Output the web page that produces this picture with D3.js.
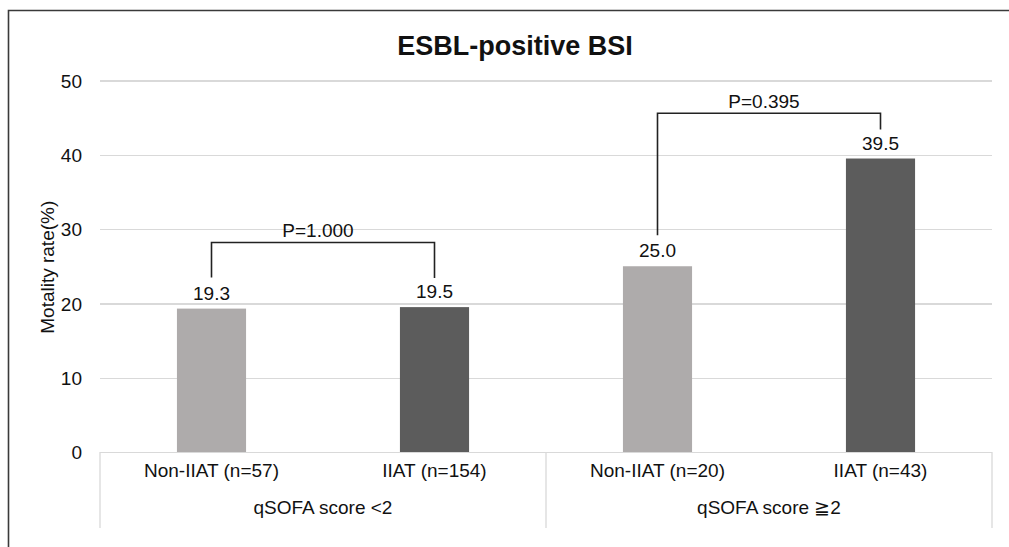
<!DOCTYPE html>
<html>
<head>
  <title>ESBL-positive BSI</title>
  <style>
  body {
    margin: 0;
    background: #fff;
    font-family: "Liberation Sans", Arial, Helvetica, sans-serif;
  }

  .grid line {
    stroke: #d9d9d9;
    stroke-width: 1.3;
    shape-rendering: crispedges;
  }

  .tick text {
    font-size: 19px;
    fill: #111;
  }

  .sep {
    stroke: #d9d9d9;
    stroke-width: 1.3;
  }

  .bracket {
    fill: none;
    stroke: #222;
    stroke-width: 1.6;
  }

  .label {
    font-size: 19px;
    fill: #111;
    text-anchor: middle;
  }
  </style>
  <script src="https://cdn.jsdelivr.net/npm/d3@7"></script>
</head>
<body>
<div id="container"></div>
<script>
var categories = ["Non-IIAT (n=57)", "IIAT (n=154)", "Non-IIAT (n=20)", "IIAT (n=43)"],
    treatment  = ["non", "iiat", "non", "iiat"],
    groups     = ["qSOFA score <2", "qSOFA score \u22672"],
    rates      = [19.3, 19.5, 25.0, 39.5],
    yTicks     = [0, 10, 20, 30, 40, 50]

// p-value comparisons: bar indexes, label, level of the bracket (in %)
var pFrom  = [0, 2],
    pTo    = [1, 3],
    pText  = ["P=1.000", "P=0.395"],
    pLevel = [28.2, 45.6]

var W = 1009, H = 547,
    plotL = 100, plotR = 992, plotT = 80.5, plotB = 452

var colour = d3.scaleOrdinal()
  .domain(["non", "iiat"])
  .range(["#aeabab", "#5c5c5c"])

var svg = d3.select("#container").append("svg")
    .attr("width", W)
    .attr("height", H)
    .style("display", "block")

// outer frame (only top and left are inside the picture)
svg.append("path")
  .attr("d", "M8.5," + H + "V10.5H" + W)
  .attr("fill", "none")
  .attr("stroke", "#3a3a3a")
  .attr("stroke-width", 1.6)

var x = d3.scaleBand()
  .domain(categories)
  .range([plotL, plotR])
  .padding(0)

var y = d3.scaleLinear()
  .domain([0, 50])
  .range([plotB, plotT])

var barW = x.bandwidth() * 0.31

svg.append("text")
  .attr("x", 515)
  .attr("y", 55)
  .attr("text-anchor", "middle")
  .attr("font-size", "27px")
  .attr("font-weight", "bold")
  .attr("fill", "#111")
  .text("ESBL-positive BSI")

var yax = d3.axisLeft(y)
  .tickValues(yTicks)
  .tickSize(-(plotR - plotL))
  .tickPadding(18)
  .tickFormat(d3.format("d"))

svg.append("g")
  .attr("class", "grid")
  .attr("transform", "translate(" + plotL + ",0)")
  .call(yax)
  .call(function(g) { g.select(".domain").remove() })
  .call(function(g) { g.selectAll(".tick text").attr("dy", "0.35em") })

svg.append("text")
  .attr("class", "label")
  .attr("transform", "translate(54," + ((plotT + plotB) / 2 + 1) + ") rotate(-90)")
  .text("Motality rate(%)")

// group separators below the axis
var sepX = [plotL, x(categories[2]), plotR]
svg.selectAll(".sep")
  .data(sepX)
.enter().append("line")
  .attr("class", "sep")
  .attr("x1", function(d) { return d })
  .attr("x2", function(d) { return d })
  .attr("y1", plotB)
  .attr("y2", 528)

svg.selectAll(".bar")
  .data(rates)
.enter().append("rect")
  .attr("class", "bar")
  .attr("x", function(d, i) { return x(categories[i]) + (x.bandwidth() - barW) / 2 })
  .attr("y", function(d) { return y(d) })
  .attr("width", barW)
  .attr("height", function(d) { return y(0) - y(d) })
  .attr("fill", function(d, i) { return colour(treatment[i]) })

svg.selectAll(".val")
  .data(rates)
.enter().append("text")
  .attr("class", "label val")
  .attr("x", function(d, i) { return x(categories[i]) + x.bandwidth() / 2 })
  .attr("y", function(d) { return y(d) - 9 })
  .text(function(d) { return d.toFixed(1) })

svg.selectAll(".cat")
  .data(categories)
.enter().append("text")
  .attr("class", "label cat")
  .attr("x", function(d) { return x(d) + x.bandwidth() / 2 })
  .attr("y", 477)
  .text(function(d) { return d })

svg.selectAll(".grp")
  .data(groups)
.enter().append("text")
  .attr("class", "label grp")
  .attr("x", function(d, i) { return x(categories[i * 2]) + x.bandwidth() })
  .attr("y", 514)
  .text(function(d) { return d })

// brackets
var cx = function(i) { return x(categories[i]) + x.bandwidth() / 2 }

svg.selectAll(".bracket")
  .data(pText)
.enter().append("path")
  .attr("class", "bracket")
  .attr("d", function(d, i) {
    var a = pFrom[i], b = pTo[i], ly = y(pLevel[i])
    return "M" + cx(a) + "," + (y(rates[a]) - 31) +
           "V" + ly + "H" + cx(b) +
           "V" + (y(rates[b]) - 29)
  })

svg.selectAll(".pval")
  .data(pText)
.enter().append("text")
  .attr("class", "label pval")
  .attr("x", function(d, i) { return (cx(pFrom[i]) + cx(pTo[i])) / 2 - 5 })
  .attr("y", function(d, i) { return y(pLevel[i]) - 5 })
  .text(function(d) { return d })
</script>
</body>
</html>
